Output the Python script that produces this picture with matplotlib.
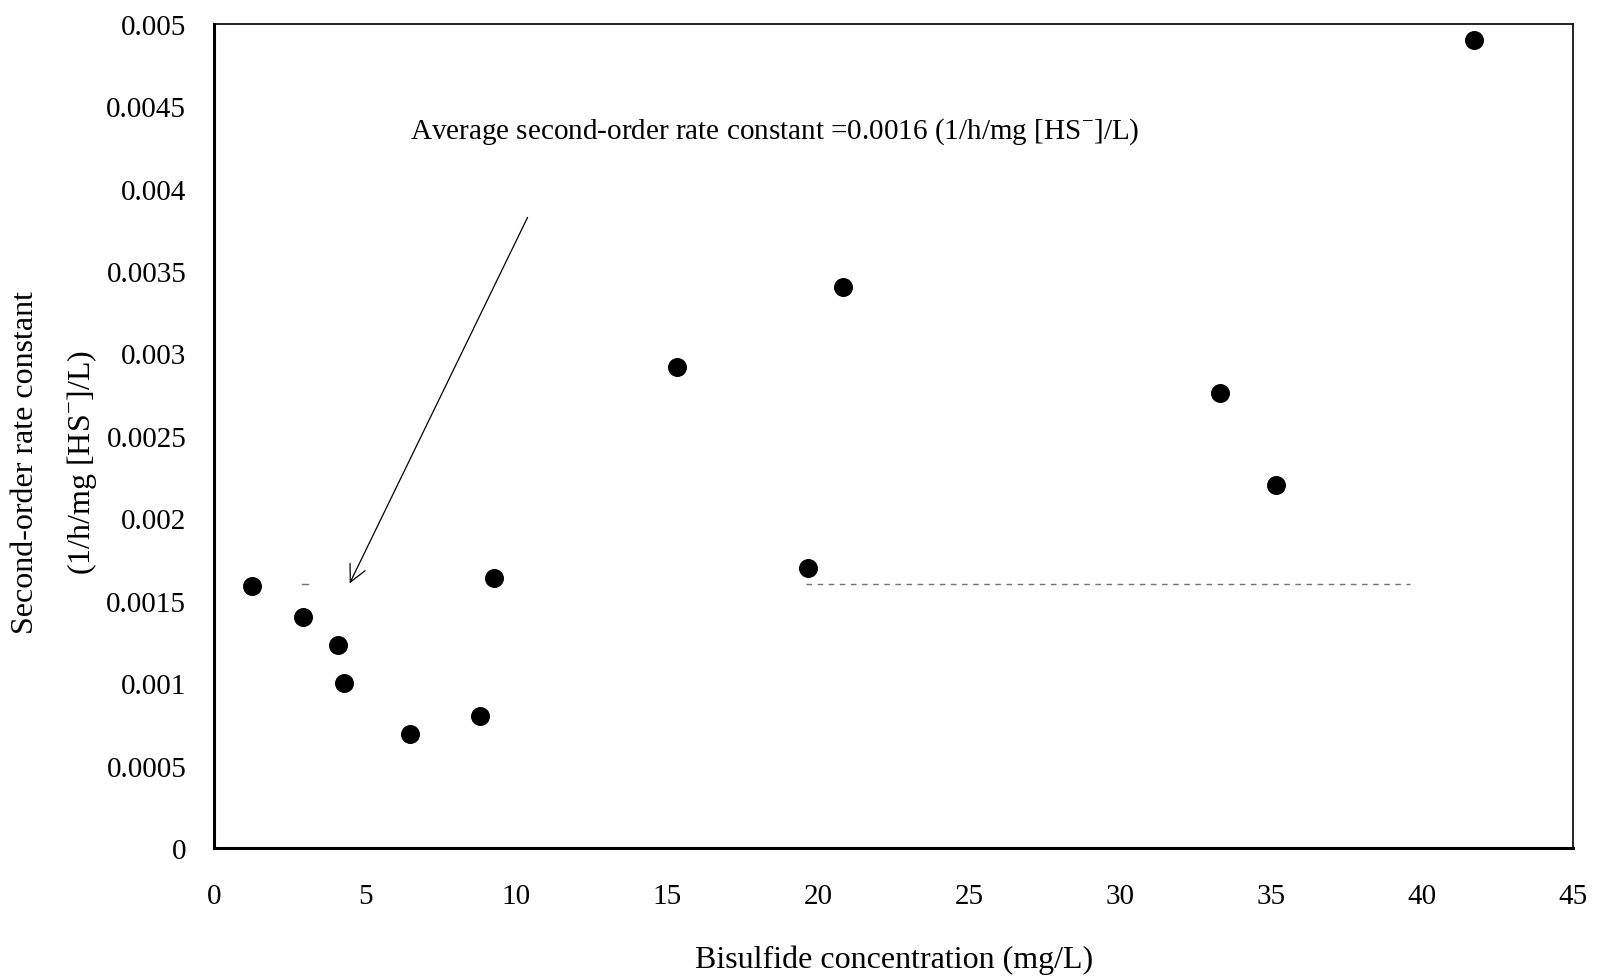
import matplotlib
matplotlib.use("Agg")
import matplotlib.pyplot as plt
import numpy as np

plt.rcParams['font.family'] = ['Liberation Serif', 'DejaVu Serif']
plt.rcParams['mathtext.fontset'] = 'custom'
plt.rcParams['mathtext.rm'] = 'Liberation Serif'

# bisulfide concentration (mg/L) vs second-order rate constant
conc = [1.26, 2.95, 4.1, 4.31, 6.48, 8.82, 9.26, 15.34, 19.65, 20.83, 33.29, 35.15, 41.7]
rate = [0.00159, 0.00140, 0.00123, 0.00100, 0.00069, 0.00080, 0.00164,
        0.00292, 0.00170, 0.00340, 0.00276, 0.00220, 0.00490]
avg_rate = 0.0016
avg_span = [19.6, 39.6]

fig = plt.figure(figsize=(16.07, 9.78), dpi=100)
ax = fig.add_axes([0.1332, 0.1319, 0.979 - 0.1332, 0.9748 - 0.1319])

ax.scatter(conc, rate, s=160, color='black', zorder=3)

# faint dashed average line
ax.plot(avg_span, [avg_rate, avg_rate], color='0.45', lw=1.0, ls=(0, (4, 4)))
ax.plot([2.9, 3.1], [avg_rate, avg_rate], color='0.45', lw=1.0)

ax.annotate('', xy=(4.45, 0.00159), xytext=(10.42, 0.00384),
            arrowprops=dict(arrowstyle='->', color='black', lw=0.9,
                            mutation_scale=30))
ax.text(6.5, 0.00435, 'Average second-order rate constant =0.0016 (1/h/mg [HS$^{-}$]/L)',
        fontsize=21, va='center', ha='left')

ax.set_xlim(0, 45)
ax.set_ylim(0, 0.005)
ax.set_xticks(np.arange(0, 46, 5))
ax.set_yticks(np.arange(0, 0.00501, 0.0005))
ax.yaxis.set_major_formatter(matplotlib.ticker.FuncFormatter(lambda v, p: '%g' % round(v, 6)))
ax.tick_params(length=0, labelsize=21)
ax.tick_params(axis='x', pad=25)
ax.tick_params(axis='y', pad=20)

for side in ['left', 'bottom']:
    ax.spines[side].set_linewidth(2.2)
for side in ['top', 'right']:
    ax.spines[side].set_linewidth(1.2)

ax.set_xlabel('Bisulfide concentration (mg/L)', fontsize=23, labelpad=26)
fig.text(0.016, 0.527, 'Second-order rate constant', rotation=90, fontsize=23,
         ha='center', va='center')
fig.text(0.051, 0.527, '(1/h/mg [HS$^{-}$]/L)', rotation=90, fontsize=23,
         ha='center', va='center')

fig.savefig('out.png', dpi=100)
